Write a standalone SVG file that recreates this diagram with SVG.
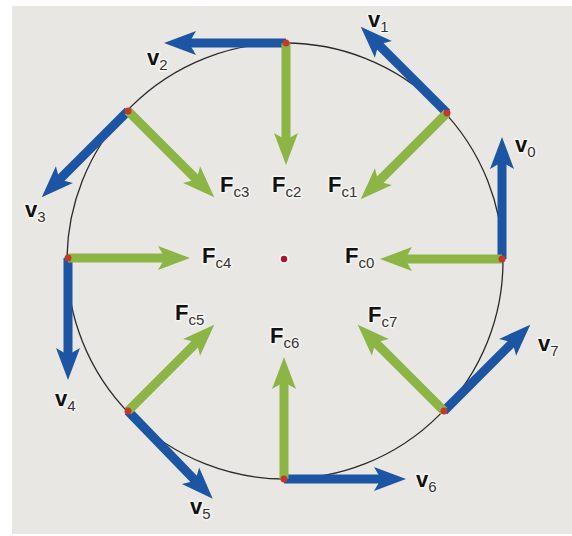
<svg xmlns="http://www.w3.org/2000/svg" xmlns:xlink="http://www.w3.org/1999/xlink" width="572" height="536" viewBox="0 0 572 536">
  <style>
    .lbl { font-family: "Liberation Sans", Arial, sans-serif; font-weight: bold; font-size: 22px; fill: #111; stroke: #f6f5f2; stroke-width: 3px; paint-order: stroke; stroke-linejoin: round; }
    .sub { font-weight: normal; font-size: 15px; fill: #333; }
    .pt { fill: #c0392b; }
    .orbit { fill: none; stroke: #2a2a2a; stroke-width: 1.3; }
  </style>
  <defs>
    <g id="vArr">
      <rect x="0" y="-4.5" width="98" height="9" fill="#1b55a3"/>
      <path d="M122,0 L90,-12 L97,0 L90,12 Z" fill="#1b55a3"/>
    </g>
    <g id="fArr">
      <rect x="0" y="-4.5" width="98" height="9" fill="#8cb546"/>
      <path d="M122,0 L90,-12 L97,0 L90,12 Z" fill="#8cb546"/>
    </g>
  </defs>
  <rect x="0" y="0" width="572" height="536" fill="#ffffff"/>
  <rect x="12" y="6" width="560" height="528" fill="#e9e7e3"/>

  <g id="connectors">
    <circle class="orbit" cx="285" cy="261" r="218"/>
  </g>

  <g id="pos0">
    <use xlink:href="#vArr" transform="translate(502,259) rotate(-90)"/>
    <use xlink:href="#fArr" transform="translate(502,259) rotate(180)"/>
    <circle class="pt" cx="502" cy="259" r="3.5"/>
    <text class="lbl" x="515" y="152">v<tspan class="sub" dy="5">0</tspan></text>
    <text class="lbl" x="345" y="263">F<tspan class="sub" dy="5">c0</tspan></text>
  </g>
  <g id="pos1">
    <use xlink:href="#vArr" transform="translate(447,113) rotate(-135)"/>
    <use xlink:href="#fArr" transform="translate(447,113) rotate(135)"/>
    <circle class="pt" cx="447" cy="113" r="3.5"/>
    <text class="lbl" x="368" y="27">v<tspan class="sub" dy="5">1</tspan></text>
    <text class="lbl" x="328" y="192">F<tspan class="sub" dy="5">c1</tspan></text>
  </g>
  <g id="pos2">
    <use xlink:href="#vArr" transform="translate(286,43) rotate(180)"/>
    <use xlink:href="#fArr" transform="translate(286,43) rotate(90)"/>
    <circle class="pt" cx="286" cy="43" r="3.5"/>
    <text class="lbl" x="147" y="65">v<tspan class="sub" dy="5">2</tspan></text>
    <text class="lbl" x="272" y="192">F<tspan class="sub" dy="5">c2</tspan></text>
  </g>
  <g id="pos3">
    <use xlink:href="#vArr" transform="translate(128,111) rotate(135)"/>
    <use xlink:href="#fArr" transform="translate(128,111) rotate(45)"/>
    <circle class="pt" cx="128" cy="111" r="3.5"/>
    <text class="lbl" x="25" y="217">v<tspan class="sub" dy="5">3</tspan></text>
    <text class="lbl" x="220" y="192">F<tspan class="sub" dy="5">c3</tspan></text>
  </g>
  <g id="pos4">
    <use xlink:href="#vArr" transform="translate(68,258) rotate(90)"/>
    <use xlink:href="#fArr" transform="translate(68,258) rotate(0)"/>
    <circle class="pt" cx="68" cy="258" r="3.5"/>
    <text class="lbl" x="55" y="406">v<tspan class="sub" dy="5">4</tspan></text>
    <text class="lbl" x="202" y="263">F<tspan class="sub" dy="5">c4</tspan></text>
  </g>
  <g id="pos5">
    <use xlink:href="#vArr" transform="translate(128,411) rotate(46)"/>
    <use xlink:href="#fArr" transform="translate(128,411) rotate(-45)"/>
    <circle class="pt" cx="128" cy="411" r="3.5"/>
    <text class="lbl" x="190" y="514">v<tspan class="sub" dy="5">5</tspan></text>
    <text class="lbl" x="175" y="320">F<tspan class="sub" dy="5">c5</tspan></text>
  </g>
  <g id="pos6">
    <use xlink:href="#vArr" transform="translate(284,479) rotate(0)"/>
    <use xlink:href="#fArr" transform="translate(284,479) rotate(-90)"/>
    <circle class="pt" cx="284" cy="479" r="3.5"/>
    <text class="lbl" x="416" y="487">v<tspan class="sub" dy="5">6</tspan></text>
    <text class="lbl" x="270" y="343">F<tspan class="sub" dy="5">c6</tspan></text>
  </g>
  <g id="pos7">
    <use xlink:href="#vArr" transform="translate(444,411) rotate(-45)"/>
    <use xlink:href="#fArr" transform="translate(444,411) rotate(-135)"/>
    <circle class="pt" cx="444" cy="411" r="3.5"/>
    <text class="lbl" x="538" y="351">v<tspan class="sub" dy="5">7</tspan></text>
    <text class="lbl" x="368" y="322">F<tspan class="sub" dy="5">c7</tspan></text>
  </g>
  <g id="center">
    <circle cx="284" cy="259" r="5" fill="#f7f6f3"/>
    <circle cx="284" cy="259" r="3.2" fill="#b3122c"/>
  </g>
</svg>
